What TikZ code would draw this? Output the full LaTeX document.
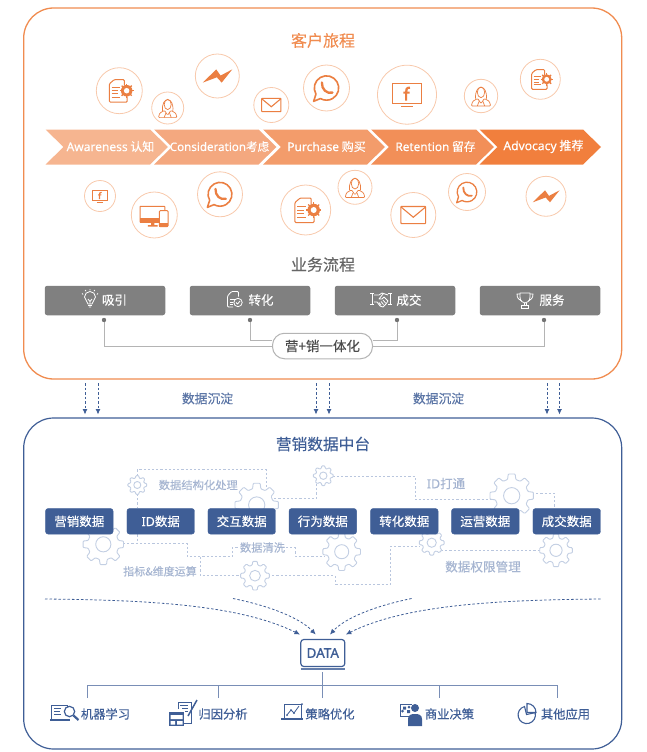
\documentclass[tikz,border=0pt]{standalone}
\usepackage{fontspec}
\setmainfont{Noto Sans CJK SC}[FakeBold=0.25]
\newfontfamily\latf{Noto Sans}[FakeBold=0.25]
\newfontfamily\latb{Noto Sans}[FakeBold=1.1]
\usetikzlibrary{arrows.meta,calc}
\definecolor{org}{HTML}{F08C50}
\definecolor{orgl}{HTML}{F8C9AC}
\definecolor{orgi}{HTML}{EB7F42}
\definecolor{blu}{HTML}{3F5E96}
\definecolor{blul}{HTML}{B9C6DE}
\definecolor{gearc}{HTML}{C3CFE3}
\definecolor{blut}{HTML}{A6B5D1}
\definecolor{grb}{HTML}{808080}
\definecolor{grl}{HTML}{B4B4B4}
\definecolor{cha}{HTML}{F6B590}
\definecolor{chb}{HTML}{F4A87F}
\definecolor{chc}{HTML}{F39C6B}
\definecolor{chd}{HTML}{F28F58}
\definecolor{che}{HTML}{F17F3D}
\tikzset{
 ring/.style={draw=orgl,line width=0.8pt,fill=white},
 chevtxt/.style={text=white,inner sep=0pt},
 grybox/.style={fill=grb,rounded corners=2.5pt},
 grytxt/.style={text=white,font=\fontsize{12.5}{14}\selectfont,inner sep=0pt},
 databox/.style={fill=blu,rounded corners=2.5pt,draw=blu,minimum width=67.5pt,minimum height=25.5pt,inner sep=0pt,text=white,font=\fontsize{12.5}{15}\selectfont},
 dashln/.style={draw=blul,line width=0.8pt,dash pattern=on 2.2pt off 2pt},
 flow/.style={draw=blu,line width=0.8pt,dash pattern=on 2.5pt off 2pt,-{Latex[length=5.5pt,width=5pt]}},
 faint/.style={text=blut,inner sep=0pt},
 bottxt/.style={text=blu,font=\fontsize{12.3}{15}\selectfont,inner sep=0pt},
 blueic/.style={draw=blu,line width=0.9pt},
 whiteic/.style={draw=white,line width=0.8pt},
}
% gear: cx cy r teeth
\newcommand{\gearshape}[5][white]{%
 \begin{scope}[shift={(#2,#3)},x=#4pt,y=-#4pt]
 \pgfmathsetmacro{\stp}{360/#5}
 \pgfmathsetmacro{\wa}{\stp*0.2}
 \pgfmathsetmacro{\wb}{\stp*0.32}
 \draw[draw=gearc,line width=0.9pt,fill=#1,rounded corners=0.8pt] (-\wb:0.76)
  \foreach \k in {1,...,#5}{ -- ({(\k-1)*\stp-\wa}:1) -- ({(\k-1)*\stp+\wa}:1) -- ({(\k-1)*\stp+\wb}:0.76) -- ({\k*\stp-\wb}:0.76) } -- cycle;
 \draw[draw=gearc,line width=0.9pt] (0,0) circle (0.37);
 \end{scope}}
\newcommand{\icdoc}[3]{\begin{scope}[shift={(#1,#2)},x=#3pt,y=-#3pt]
 \draw[draw=orgi,line width=1pt,rounded corners=1pt] (.22,-.22)--(.22,-.48)--(-.22,-.48)--(-.43,-.3)--(-.43,.5)--(.34,.5)--(.34,.25);
 \draw[draw=orgi,line width=1pt] (-.33,-.14)--(.02,-.14) (-.33,.0)--(-.05,.0) (-.33,.14)--(-.05,.14) (-.33,.28)--(.02,.28);
 \fill[orgi] (.32,0) circle (.25);\fill[white] (.32,0) circle (.12);
 \foreach \a in {0,45,...,315}{\draw[draw=orgi,line width=1.3pt] ($(.32,0)+(\a:.2)$)--($(.32,0)+(\a:.31)$);}
 \end{scope}}
\newcommand{\icbolt}[3]{\begin{scope}[shift={(#1,#2)},x=#3pt,y=-#3pt]
 \fill[orgi] (-.66,.3)--(-.05,-.3)--(.15,-.02)--(.68,-.3)--(.2,.3)--(-.02,.06)--cycle;
 \end{scope}}
\newcommand{\icagent}[3]{\begin{scope}[shift={(#1,#2)},x=#3pt,y=-#3pt]
 \draw[draw=orgi,line width=.7pt] (-.32,.18) .. controls (-.42,-.75) and (.42,-.75) .. (.32,.18);
 \draw[draw=orgi,line width=.7pt] (0,-.22) ellipse (.22 and .32);
 \draw[draw=orgi,line width=.7pt,rounded corners=1pt] (-.58,.6)--(-.5,.32)--(-.2,.15)--(0,.45)--(.2,.15)--(.5,.32)--(.58,.6)--cycle;
 \draw[draw=orgi,line width=.7pt] (-.22,.6)--(-.12,.33) (.22,.6)--(.12,.33);
 \end{scope}}
\newcommand{\icmail}[3]{\begin{scope}[shift={(#1,#2)},x=#3pt,y=-#3pt]
 \draw[draw=orgi,line width=1.1pt,rounded corners=.6pt] (-.55,-.38) rectangle (.55,.38);
 \draw[draw=orgi,line width=1.1pt] (-.55,-.36)--(0,.1)--(.55,-.36);
 \end{scope}}
\newcommand{\icwa}[3]{\begin{scope}[shift={(#1,#2)},x=#3pt,y=-#3pt]
 \draw[draw=orgi,line width=#3*0.07pt,line join=round] (150:.53) arc[start angle=150,end angle=480,radius=.53] -- (-.56,.58) -- cycle;
 \draw[draw=orgi,line width=#3*0.1pt,line cap=round] (-.2,-.24) .. controls (-.22,.06) and (.02,.27) .. (.26,.2);
 \end{scope}}
\newcommand{\icfb}[3]{\begin{scope}[shift={(#1,#2)},x=#3pt,y=-#3pt]
 \draw[draw=orgi,line width=1.2pt] (-.5,-.38) rectangle (.5,.3);
 \draw[draw=orgi,line width=1.2pt] (-.2,.41)--(.2,.41);
 \draw[draw=orgi,line width=#3*0.075pt] (.1,-.24) .. controls (-.03,-.25) and (-.03,-.15) .. (-.03,-.08)--(-.03,.2) (-.12,-.07)--(.09,-.07);
 \end{scope}}
\newcommand{\icdev}[3]{\begin{scope}[shift={(#1,#2)},x=#3pt,y=-#3pt]
 \draw[draw=orgi,line width=1pt,rounded corners=.6pt] (-.62,-.38) rectangle (.46,.32);
 \fill[orgi] (-.62,.12) rectangle (.46,.33);
 \fill[orgi] (-.14,.32) rectangle (.0,.45) (-.28,.44) rectangle (.14,.5);
 \draw[draw=orgi,line width=1pt,fill=white,rounded corners=1pt] (.22,-.19) rectangle (.6,.5);
 \fill[orgi] (.22,.34) rectangle (.6,.5);
 \end{scope}}
\newcommand{\chevron}[3]{% start end color
 \fill[#3] (#1,129.5)--(#2,129.5)--(#2+18,147)--(#2,164.5)--(#1,164.5)--(#1+18,147)--cycle;}
\begin{document}
\begin{tikzpicture}[x=1pt,y=-1pt]
\useasboundingbox (0,0) rectangle (647,752);
% outer frames
\node[draw=org,line width=1.3pt,rounded corners=30pt,minimum width=598pt,minimum height=371pt,inner sep=0pt] (top) at (322.7,193.5) {};
\node[draw=blu,line width=1.2pt,rounded corners=30pt,minimum width=598pt,minimum height=331pt,inner sep=0pt] (bot) at (322.7,583.5) {};
\node[text=org,font=\fontsize{16}{18}\selectfont,inner sep=0pt] (t1) at (323,40.5) {客户旅程};
% chevrons
\chevron{45.5}{150}{cha}
\chevron{154}{258.5}{chb}
\chevron{263}{367}{chc}
\chevron{371}{476}{chd}
\chevron{479.5}{583}{che}
\node[chevtxt,font=\fontsize{12}{13}\selectfont] (c1) at (110.5,146.5) {{\latf Awareness} 认知};
\node[chevtxt,font=\fontsize{11.6}{13}\selectfont] (c2) at (219.5,146.5) {{\latf Consideration}考虑};
\node[chevtxt,font=\fontsize{12}{13}\selectfont] (c3) at (326.5,146.5) {{\latf Purchase} 购买};
\node[chevtxt,font=\fontsize{11.8}{13}\selectfont] (c4) at (435.5,146.5) {{\latf Retention} 留存};
\node[chevtxt,font=\fontsize{12.1}{13}\selectfont] (c5) at (543.5,146.5) {{\latf Advocacy} 推荐};
% rings with icons
\foreach \n/\x/\y/\r in {r1/119.3/90.7/23,r2/167.7/108/16,r3/217.3/76/22,r4/271.3/105/17.5,r5/326.5/88/23,r6/407/94.7/29.5,r7/481/96/16.7,r8/540.3/79.3/20,r9/100/196/15.5,r10/154.3/215/23,r11/220/194.3/22.5,r12/305.7/210/25,r13/355/187.3/17,r14/413.3/215/22.5,r15/467/192/18.5,r16/546/196.3/20}{
 \node[ring,circle,minimum size=2*\r pt,inner sep=0pt] (\n) at (\x,\y) {};
}
\icdoc{119.3}{90.7}{23}
\icagent{167.7}{108}{16}
\icbolt{217.3}{76}{22}
\icmail{271.3}{105}{17.5}
\icwa{326.5}{88}{23}
\icfb{407}{94.7}{29.5}
\icagent{481}{96}{16.7}
\icdoc{540.3}{79.3}{20}
\icfb{100}{196}{15.5}
\icdev{154.3}{215}{23}
\icwa{220}{194.3}{22.5}
\icdoc{305.7}{210}{25}
\icagent{355}{187.3}{17}
\icmail{413.3}{215}{22.5}
\icwa{467}{192}{18.5}
\icbolt{546}{196.3}{20}
% business
\node[text=black!60,font=\fontsize{16}{18}\selectfont,inner sep=0pt] (t2) at (323,264.5) {业务流程};
\foreach \n/\x in {g1/105,g2/250,g3/395,g4/540}{
 \node[grybox,minimum width=120.5pt,minimum height=29.5pt,inner sep=0pt] (\n) at (\x,300.5) {};
}
\node[grytxt] (gt1) at (114.5,300) {吸引};
\node[grytxt] (gt2) at (261,300) {转化};
\node[grytxt] (gt3) at (409,300) {成交};
\node[grytxt] (gt4) at (552,300) {服务};
% bulb
\begin{scope}[shift={(90,300)}]
\draw[whiteic] (-2,4) .. controls (-2,1) and (-5.5,0) .. (-5.5,-3) arc[start angle=180,end angle=360,radius=5.5] .. controls (5.5,0) and (2,1) .. (2,4)--cycle;
\draw[whiteic] (-1.8,5.5)--(1.8,5.5) (-1.2,7)--(1.2,7) (-2,-1)--(0,1.5)--(2,-1) (0,1.5)--(0,4);
\draw[whiteic] (-8,-6.5)--(-6.8,-5.5) (8,-6.5)--(6.8,-5.5) (0,-11)--(0,-9.6) (-4.8,-10)--(-4,-8.8) (4.8,-10)--(4,-8.8);
\end{scope}
% doc check
\begin{scope}[shift={(235,300)}]
\draw[whiteic,rounded corners=1pt] (-2,7)--(-7.5,7)--(-7.5,-4)--(-3.5,-8.5)--(3.5,-8.5)--(3.5,-3.5);
\draw[whiteic] (-5,-1)--(1,-1) (-5,2)--(-2,2) (-5,4.5)--(-2,4.5);
\draw[whiteic] (3,2.5) circle (4.2);
\draw[whiteic] (1,2.5)--(2.6,4)--(5,1);
\end{scope}
% handshake
\begin{scope}[shift={(381,300)}]
\draw[whiteic] (-11,-7)--(-7,-7) (-9,-7)--(-9,4) (-11,4)--(-7,4) (7,-7)--(11,-7) (9,-7)--(9,4) (7,4)--(11,4);
\draw[whiteic,line join=round] (-7,-5)--(-2,-5)--(1,-7)--(7,-5) (-7,2)--(-4,2)--(-1,6)--(2,7)--(5,4)--(7,1) (2,-6)--(-2,-1)--(1,-1)--(3,-3)--(7,1) (-2,2.5)--(0,5) (0,1.5)--(2.5,4.5) (2,0)--(4.5,3);
\end{scope}
% trophy
\begin{scope}[shift={(525,300)}]
\draw[whiteic,line join=round] (-5,-7)--(5,-7)--(5,-3) .. controls (5,1) and (2,3) .. (0,3) .. controls (-2,3) and (-5,1) .. (-5,-3)--cycle;
\draw[whiteic] (-5,-6) -- (-8,-6) .. controls (-8,-2) and (-6,0) .. (-3.5,1) (5,-6)--(8,-6) .. controls (8,-2) and (6,0) .. (3.5,1);
\draw[whiteic] (-1,3)--(-1,5) (1,3)--(1,5);
\draw[whiteic] (-3.5,5) rectangle (3.5,8);
\end{scope}
% integration
\foreach \n/\x in {d1/104,d2/250,d3/397,d4/544}{\coordinate (\n) at (\x,320);}
\coordinate (pl) at (272,340);
\coordinate (pr) at (373,340);
\coordinate (plo) at (272,346);
\coordinate (pro) at (373,346);
\draw[grl,line width=1pt] (d1) |- (plo);
\draw[grl,line width=1pt] (d4) |- (pro);
\draw[grl,line width=1pt] (d2) |- (pl);
\draw[grl,line width=1pt] (d3) |- (pr);
\node[draw=grl,line width=1pt,fill=white,rounded corners=12pt,minimum width=100pt,minimum height=25.5pt,inner sep=0pt,text=black!70,font=\fontsize{13.5}{16}\selectfont] (pill) at (322.5,346) {营+销一体化};
\foreach \n in {d1,d2,d3,d4}{\fill[black!55] (\n) circle (2.2);}
% sediment arrows
\foreach \a/\x in {a1/85,a2/98,a3/316,a4/329,a5/547,a6/559.5}{
 \coordinate (\a) at (\x,383);
 \coordinate (\a e) at (\x,414.5);
 \draw[flow] (\a) -- (\a e);
}
\node[text=blu!85,font=\fontsize{12.8}{14}\selectfont,inner sep=0pt] (s1) at (207.5,398.5) {数据沉淀};
\node[text=blu!85,font=\fontsize{12.8}{14}\selectfont,inner sep=0pt] (s2) at (438.5,398.5) {数据沉淀};
\node[text=blu,font=\fontsize{15.7}{17}\selectfont,inner sep=0pt] (t3) at (323,444) {营销数据中台};
% dashed network
\draw[dashln] (137.3,476)--(137.3,469.7)--(266.7,469.7)--(266.7,490);
\draw[dashln] (137.3,494)--(137.3,508);
\draw[dashln] (137.3,534.3)--(137.3,543.7);
\draw[dashln] (123,543.7)--(187.3,543.7)--(187.3,556.7)--(232.3,556.7)--(232.3,547.7)--(239,547.7);
\draw[dashln] (286,547.7)--(295,547.7)--(295,556)--(325,556);
\draw[dashln] (200.7,556.7)--(200.7,575.7)--(242,575.7);
\draw[dashln] (268,575.7)--(335,575.7)--(335,584)--(390.7,584)--(390.7,546.3)--(420,546.3);
\draw[dashln] (441,550.3)--(542,550.3);
\draw[dashln] (270,498.3)--(316.7,498.3)--(316.7,484);
\draw[dashln] (332.7,476.3)--(415,476.3)--(415,499.7)--(492,499.7);
\draw[dashln] (532,493)--(554.3,493)--(554.3,508);
% gears
\gearshape{103.3}{544.3}{20.5}{8}
\gearshape{137.3}{485}{9.5}{8}
\gearshape{256.7}{505}{22}{8}
\gearshape{323.3}{475.7}{10}{8}
\gearshape{255}{575.7}{14.5}{8}
\gearshape{341.7}{551.7}{19}{8}
\gearshape{431.7}{542.7}{12.5}{8}
\gearshape{556}{550.3}{16.5}{8}
\gearshape{511.7}{495.7}{22}{8}
% data boxes
\node[databox] (b1) at (79.3,521.3) {营销数据};
\node[databox] (b2) at (160.7,521.3) {{\latf ID}数据};
\node[databox] (b3) at (241.7,521.3) {交互数据};
\node[databox] (b4) at (322.8,521.3) {行为数据};
\node[databox] (b5) at (404.3,521.3) {转化数据};
\node[databox] (b6) at (485.3,521.3) {运营数据};
\node[databox] (b7) at (566.7,521.3) {成交数据};
\node[faint,font=\fontsize{11.3}{13}\selectfont] (n1) at (198.3,485) {数据结构化处理};
\node[faint,font=\fontsize{11.3}{13}\selectfont] (n2) at (262.5,547.5) {数据清洗};
\node[faint,font=\fontsize{11}{13}\selectfont] (n3) at (160,571.3) {指标\&维度运算};
\node[faint,font=\fontsize{12.5}{14}\selectfont] (n4) at (446,483.5) {{\latf ID}打通};
\node[faint,font=\fontsize{12.6}{15}\selectfont] (n5) at (483,566.7) {数据权限管理};
% DATA
\node[draw=blu,line width=1.2pt,rounded corners=3pt,minimum width=44pt,minimum height=27pt,inner sep=0pt,text=blu,font=\latb\fontsize{13.5}{15}\selectfont] (data) at (322.8,653) {DATA};
\draw[blu!80,line width=1.6pt] (300.7,669)--(345,669);
\coordinate (f1) at (45,599);\coordinate (f2) at (233,598.5);\coordinate (f3) at (411.6,598.5);\coordinate (f4) at (600.7,599);
\draw[flow] (f1) .. controls (150,600) and (240,605) .. (300,634.5);
\draw[flow] (f2) .. controls (270,606) and (300,618) .. (315.7,634.5);
\draw[flow] (f3) .. controls (375,606) and (345,618) .. (330,634.5);
\draw[flow] (f4) .. controls (495,600) and (405,605) .. (345.8,634.5);
% bus
\coordinate (busr) at (557,685);
\foreach \n/\x in {k1/87.5,k2/218.7,k3/322.5,k4/439.4,k5/557}{\coordinate (\n) at (\x,698);}
\draw[blu!70,line width=1pt] (k1) |- (busr) -- (k5) (k2) -- (218.7,685) (k4) -- (439.4,685) (k3) -- (322.5,672);
% bottom labels
\node[bottxt] (u1) at (105.5,714) {机器学习};
\node[bottxt] (u2) at (223,714) {归因分析};
\node[bottxt] (u3) at (330,714) {策略优化};
\node[bottxt] (u4) at (449.5,714) {商业决策};
\node[bottxt] (u5) at (565.5,714) {其他应用};
% ML icon
\begin{scope}[shift={(50,704)}]
\draw[blueic] (1.5,15)--(1.5,1)--(17,1)--(17,3);
\draw[blueic] (4,4.5)--(11,4.5) (4,7.5)--(10,7.5) (4,10.5)--(11,10.5);
\fill[blu] (0,14.5) rectangle (20,17);
\draw[blu,line width=1.2pt] (19.5,7.5) circle (5.2);
\draw[blu,line width=2.2pt] (23.5,11.5)--(28.5,16);
\end{scope}
% attribution icon
\begin{scope}[shift={(169,700)}]
\draw[blueic] (9,9)--(9,2)--(22,2)--(22,23)--(15,23);
\draw[blueic] (11,5)--(19,5) (13,8)--(19,8) (16,11)--(19,11);
\fill[blu] (0,11.5) rectangle (15,26);
\fill[white] (1.5,15) rectangle (13.5,19) (1.5,21) rectangle (6,24.5) (8,21) rectangle (13.5,24.5);
\draw[blu,line width=1.5pt] (19,16)--(28,0);
\end{scope}
% strategy icon
\begin{scope}[shift={(281,703)}]
\draw[blueic] (3,15)--(3,1.5)--(20,1.5)--(20,15);
\fill[blu] (0,14.5) rectangle (22,17);
\draw[blu,line width=.8pt] (6,12)--(10,7)--(13,10)--(18,3);
\fill[blu] (6,12) circle (1) (10,7) circle (1) (13,10) circle (1) (21,1) circle (1);
\end{scope}
% business icon
\begin{scope}[shift={(399,703)}]
\draw[blueic] (1,1)--(13,1) (1,1)--(1,13)--(11,13);
\fill[blu] (4,3.5) rectangle (7,6.5) (8,7) rectangle (11,10) (3.5,8) circle (1.5) (10,4) circle (1.5);
\fill[blu] (16,5) circle (4);
\fill[blu] (9,23)--(9,16) .. controls (9,12) and (12,11) .. (16,11) .. controls (20,11) and (23,12) .. (23,16)--(23,23)--cycle;
\end{scope}
% pie icon
\begin{scope}[shift={(527,715)}]
\draw[blu,line width=1.1pt] (-2.5,-8.5) arc[start angle=-105,end angle=-375,radius=8.7] -- (-.5,-.5) -- cycle;
\draw[blu,line width=1.1pt] (0,-11) -- (0,-2.5) -- (9,-2.5) arc[start angle=0,end angle=-90,radius=9] -- cycle;
\end{scope}
\end{tikzpicture}
\end{document}
